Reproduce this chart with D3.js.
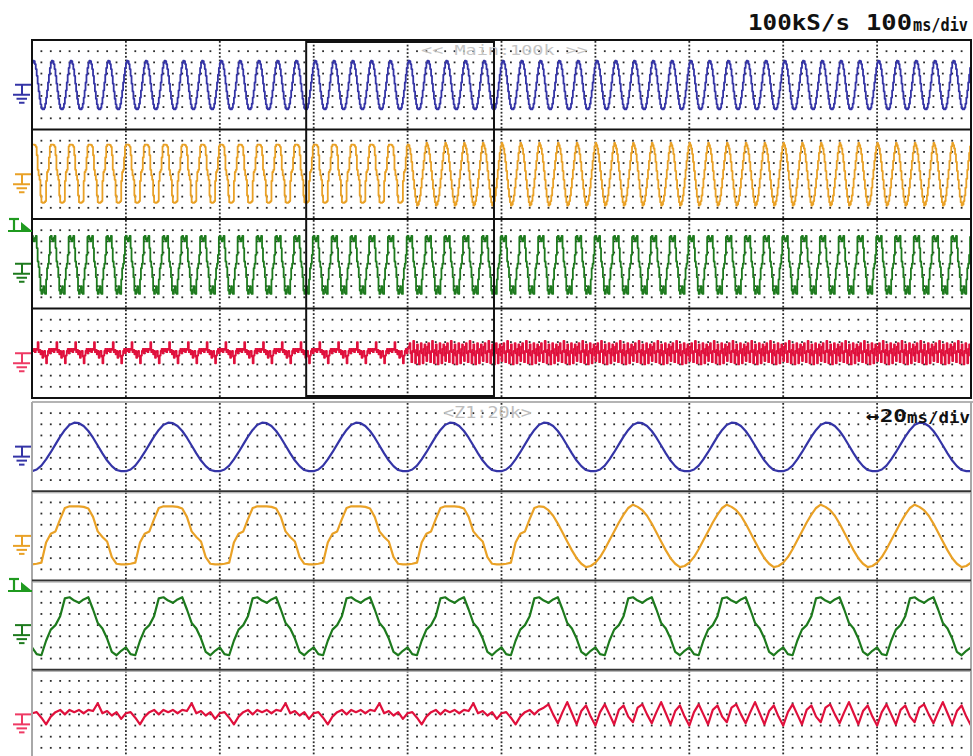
<!DOCTYPE html>
<html>
<head>
<meta charset="utf-8">
<script src="https://cdn.jsdelivr.net/npm/d3@7"></script>
<style>
  body { margin: 0; background: #ffffff; }
  svg { display: block; }
</style>
</head>
<body>
<svg id="scope" width="973" height="756"></svg>
<script>
// ---- acquisition data -------------------------------------------------------
// One 50 Hz cycle per channel, one value per millisecond (20 values),
// in vertical divisions, each cycle starting at the CH1 voltage peak.
const ch1Cycle  = [2.15, 2.1, 1.85, 1.4, 0.8, 0.1, -0.6, -1.25, -1.75, -2.1, -2.2, -2.2, -2.05, -1.7, -1.15, -0.5, 0.2, 0.9, 1.5, 1.95];
const ch2CycleA = [2.65, 2.65, 2.6, 2.45, 1.7, 0.4, -0.1, -0.5, -1.9, -2.5, -2.55, -2.55, -2.5, -2.4, -0.6, 0.2, 0.4, 1.5, 2.5, 2.65];
const ch2CycleB = [2.6, 2.3, 1.8, 1.1, 0.3, -0.5, -1.3, -2.0, -2.5, -2.8, -2.7, -2.4, -1.9, -1.2, -0.4, 0.4, 1.2, 1.9, 2.5, 2.8];
const ch3Cycle  = [2.2, 2.0, 2.3, 2.5, 1.4, 0.2, -0.3, -1.2, -2.4, -2.7, -2.3, -2.0, -2.6, -2.7, -1.4, -0.4, 0.0, 0.8, 2.4, 2.5];
const ch4CycleA = [0.2, 0.4, 0.1, 0.4, 0.3, 1.0, 0.1, 0.3, -0.1, 0.2, -0.4, 0.1, 0.2, -0.3, -0.9, -0.2, 0.2, 0.4, 0.0, 0.4];
const ch4CycleB = [0.6, 0.9, 0.0, -0.8, 0.2, 1.1, 0.1, -0.9, 0.3, 0.8, -0.2, -1.0, 0.2, 0.9, 0.0, -0.9, 0.4, 0.8, -0.2, -0.7];
// operating state of each displayed cycle (cycle -1 .. 50): 0 before the change, 1 after
const cycleState = [0,0,0,0,0,0,0,0,0,0, 0,0,0,0,0,0,0,0,0,0, 0,
                    1,1,1,1,1,1,1,1,1,1, 1,1,1,1,1,1,1,1,1,1, 1,1,1,1,1,1,1,1,1,1, 1];
// time bases (ms)
const mainSpan = [0, 1000];     // 100 ms/div
const zoomSpan = [292, 492];    // 20 ms/div
const headerLabels = ["100kS/s", "100", "ms/div"];
const zoomLabels = ["\u219420", "ms/div"];

const channels = [
  { name: "CH1", color: "#3434a6", shapes: [ch1Cycle, ch1Cycle] },
  { name: "CH2", color: "#e9a126", shapes: [ch2CycleA, ch2CycleB] },
  { name: "CH3", color: "#1d7a1d", shapes: [ch3Cycle, ch3Cycle] },
  { name: "CH4", color: "#e0103c", shapes: [ch4CycleA, ch4CycleB] }
];

// ---- layout -----------------------------------------------------------------
const svg = d3.select("#scope");
const X0 = 32, X1 = 971;
const panels = [
  { y0: 40, y1: 398, span: mainSpan, stair: true },
  { y0: 402, y1: 759, span: zoomSpan, stair: false }
];
panels.forEach(p => {
  p.h = (p.y1 - p.y0) / 4;
  p.x = d3.scaleLinear().domain(p.span).range([X0, X1]);
  p.strips = d3.range(4).map(i => d3.scaleLinear().domain([-4, 4]).range([p.y0 + (i + 1) * p.h, p.y0 + i * p.h]));
});

function sampleAt(ch, t) {
  const k = Math.floor((t - 1) / 20);
  const ph = (((t - 1) % 20) + 20) % 20;
  const st = cycleState[Math.max(0, Math.min(cycleState.length - 1, k + 1))];
  return ch.shapes[st][ph];
}

// ---- grid -------------------------------------------------------------------
const gGrid = svg.append("g");
const colW = (X1 - X0) / 100;
panels.forEach(p => {
  const dots = [];
  for (let s = 0; s < 4; s++) {
    for (let j = 1; j <= 7; j++) {
      const y = p.y0 + s * p.h + j * p.h / 8;
      for (let i = 1; i < 100; i++) {
        if (i % 10 === 0) continue;
        dots.push([X0 + i * colW, y]);
      }
    }
  }
  const step = p.h / 24;
  for (let i = 10; i < 100; i += 10) {
    for (let y = p.y0 + step / 2; y < p.y1; y += step) dots.push([X0 + i * colW, y]);
  }
  gGrid.append("g").selectAll("rect").data(dots).join("rect")
    .attr("x", d => d[0] - 0.9).attr("y", d => d[1] - 0.9)
    .attr("width", 1.8).attr("height", 1.8).attr("fill", "#2a2a2a");
});

// ---- traces -----------------------------------------------------------------
const defs = svg.append("defs");
panels.forEach((p, pi) => {
  defs.append("clipPath").attr("id", "clip" + pi).append("rect")
    .attr("x", X0).attr("y", p.y0).attr("width", X1 - X0).attr("height", p.y1 - p.y0);
});

panels.forEach((p, pi) => {
  const g = svg.append("g").attr("clip-path", `url(#clip${pi})`);
  const times = d3.range(p.span[0], p.span[1] + 2);
  channels.forEach((ch, ci) => {
    const y = p.strips[ci];
    const line = d3.line()
      .x(t => p.x(t))
      .y(t => y(sampleAt(ch, t)))
      .curve(p.stair ? d3.curveStepAfter : d3.curveLinear);
    g.append("path").datum(times)
      .attr("d", line)
      .attr("fill", "none")
      .attr("stroke", ch.color)
      .attr("stroke-width", p.stair ? 1.8 : 2.2)
      .attr("stroke-linejoin", "round");
  });
});

// ---- frames -----------------------------------------------------------------
const mainP = panels[0], zoomP = panels[1];
svg.append("rect").attr("x", X0).attr("y", mainP.y0).attr("width", X1 - X0).attr("height", mainP.y1 - mainP.y0)
  .attr("fill", "none").attr("stroke", "#111").attr("stroke-width", 2);
for (let s = 1; s < 4; s++) {
  const y = mainP.y0 + s * mainP.h;
  svg.append("line").attr("x1", X0).attr("x2", X1).attr("y1", y).attr("y2", y)
    .attr("stroke", "#111").attr("stroke-width", 2);
}
// zoom window on the main trace
svg.append("rect")
  .attr("x", mainP.x(zoomSpan[0])).attr("y", mainP.y0 + 2)
  .attr("width", mainP.x(zoomSpan[1]) - mainP.x(zoomSpan[0])).attr("height", mainP.y1 - mainP.y0 - 4)
  .attr("fill", "none").attr("stroke", "#111").attr("stroke-width", 2);

// zoom panel frame
svg.append("line").attr("x1", X0).attr("x2", 973).attr("y1", zoomP.y0).attr("y2", zoomP.y0)
  .attr("stroke", "#b4b4b4").attr("stroke-width", 2);
svg.append("line").attr("x1", X0).attr("x2", X0).attr("y1", zoomP.y0).attr("y2", 756)
  .attr("stroke", "#a8a8a8").attr("stroke-width", 2);
svg.append("line").attr("x1", X1).attr("x2", X1).attr("y1", zoomP.y0).attr("y2", 756)
  .attr("stroke", "#a8a8a8").attr("stroke-width", 2);
for (let s = 1; s < 4; s++) {
  const y = zoomP.y0 + s * zoomP.h;
  svg.append("line").attr("x1", X0).attr("x2", X1).attr("y1", y).attr("y2", y)
    .attr("stroke", "#333").attr("stroke-width", 2);
  svg.append("line").attr("x1", X0).attr("x2", X1).attr("y1", y + 1.6).attr("y2", y + 1.6)
    .attr("stroke", "#aaa").attr("stroke-width", 1);
}

// ---- ground and trigger markers -------------------------------------------
function groundMark(yLevel, color) {
  const g = svg.append("g").attr("stroke", color).attr("stroke-width", 2);
  g.append("line").attr("x1", 15).attr("x2", 31).attr("y1", yLevel).attr("y2", yLevel);
  g.append("line").attr("x1", 22).attr("x2", 22).attr("y1", yLevel).attr("y2", yLevel + 10);
  g.append("line").attr("x1", 13).attr("x2", 30).attr("y1", yLevel + 10).attr("y2", yLevel + 10);
  g.append("line").attr("x1", 16.5).attr("x2", 27).attr("y1", yLevel + 14).attr("y2", yLevel + 14);
  g.append("line").attr("x1", 19).attr("x2", 24.5).attr("y1", yLevel + 18).attr("y2", yLevel + 18);
}
panels.forEach(p => {
  channels.forEach((ch, ci) => {
    const color = ci === 3 ? "#ee3a64" : ch.color;
    groundMark(p.strips[ci](0), color);
  });
});
function triggerMark(yBase) {
  const c = "#1f9a1f";
  const g = svg.append("g");
  g.append("line").attr("x1", 9).attr("x2", 19).attr("y1", yBase - 12).attr("y2", yBase - 12)
    .attr("stroke", c).attr("stroke-width", 2.2);
  g.append("line").attr("x1", 14).attr("x2", 14).attr("y1", yBase - 12).attr("y2", yBase)
    .attr("stroke", c).attr("stroke-width", 2.2);
  g.append("line").attr("x1", 8).attr("x2", 32).attr("y1", yBase).attr("y2", yBase)
    .attr("stroke", c).attr("stroke-width", 2);
  g.append("path").attr("d", `M21,${yBase - 9}L32,${yBase}L21,${yBase}Z`).attr("fill", c);
}
triggerMark(231);
triggerMark(591);

// ---- labels -----------------------------------------------------------------
const mono = "'DejaVu Sans Mono', 'Liberation Mono', monospace";
svg.append("text").attr("x", 748).attr("y", 30).attr("font-family", mono)
  .attr("font-weight", "bold").attr("font-size", 21).attr("textLength", 102)
  .attr("lengthAdjust", "spacingAndGlyphs").attr("fill", "#111").text(headerLabels[0]);
svg.append("text").attr("x", 866).attr("y", 30).attr("font-family", mono)
  .attr("font-weight", "bold").attr("font-size", 21).attr("textLength", 46)
  .attr("lengthAdjust", "spacingAndGlyphs").attr("fill", "#111").text(headerLabels[1]);
svg.append("text").attr("x", 913).attr("y", 31).attr("font-family", mono)
  .attr("font-weight", "bold").attr("font-size", 17).attr("textLength", 55)
  .attr("lengthAdjust", "spacingAndGlyphs").attr("fill", "#111").text(headerLabels[2]);

svg.append("text").attr("x", 421).attr("y", 55).attr("font-family", mono)
  .attr("font-size", 14).attr("textLength", 167).attr("lengthAdjust", "spacingAndGlyphs")
  .attr("fill", "#c4c4c4").text("<< Main:100k >>");
svg.append("text").attr("x", 443).attr("y", 418).attr("font-family", mono)
  .attr("font-size", 15).attr("textLength", 89).attr("lengthAdjust", "spacingAndGlyphs")
  .attr("fill", "#bdbdbd").text("<Z1:20k>");

svg.append("text").attr("x", 866).attr("y", 422).attr("font-family", mono)
  .attr("font-weight", "bold").attr("font-size", 18).attr("textLength", 41)
  .attr("lengthAdjust", "spacingAndGlyphs").attr("fill", "#111").text(zoomLabels[0]);
svg.append("text").attr("x", 907).attr("y", 423).attr("font-family", mono)
  .attr("font-weight", "bold").attr("font-size", 16).attr("textLength", 63)
  .attr("lengthAdjust", "spacingAndGlyphs").attr("fill", "#111").text(zoomLabels[1]);
</script>
</body>
</html>
